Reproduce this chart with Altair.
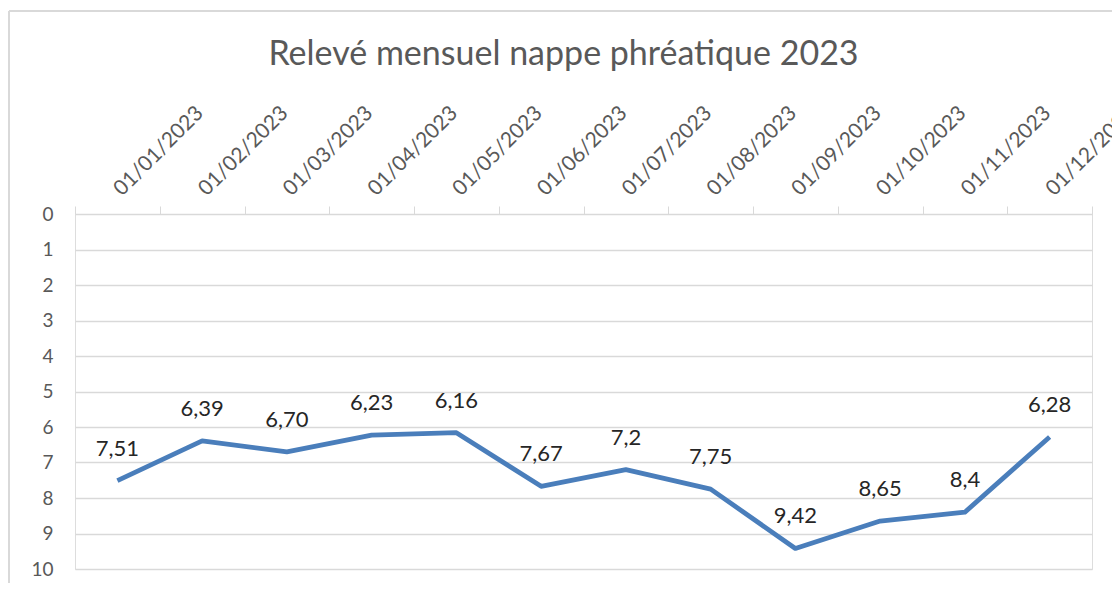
import altair as alt
import pandas as pd

dates = ["01/01/2023", "01/02/2023", "01/03/2023", "01/04/2023", "01/05/2023", "01/06/2023",
         "01/07/2023", "01/08/2023", "01/09/2023", "01/10/2023", "01/11/2023", "01/12/2023"]
levels = [7.51, 6.39, 6.70, 6.23, 6.16, 7.67, 7.2, 7.75, 9.42, 8.65, 8.4, 6.28]
labels = ["7,51", "6,39", "6,70", "6,23", "6,16", "7,67", "7,2", "7,75", "9,42", "8,65", "8,4", "6,28"]
y_ticks = [0, 1, 2, 3, 4, 5, 6, 7, 8, 9, 10]

df = pd.DataFrame({"date": dates, "level": levels, "label": labels})

FONT = "Lato"
GRID = "#D9D9D9"
AXIS_TXT = "#595959"

x_enc = alt.X(
    "date:N", sort=dates, bandPosition=0.5,
    scale=alt.Scale(type="band", paddingInner=0, paddingOuter=0),
    axis=alt.Axis(orient="top", title=None, labelAngle=-45, labelAlign="left",
                  labelBaseline="middle", labelFont=FONT, labelFontSize=21,
                  labelColor=AXIS_TXT, labelPadding=14, tickBand="extent",
                  tickSize=8, tickColor=GRID, domainColor=GRID, grid=False,
                  labelOverlap=False, labelBound=False),
)
y_enc = alt.Y(
    "level:Q",
    scale=alt.Scale(domain=[0, 10], reverse=True, nice=False, zero=False),
    axis=alt.Axis(values=y_ticks, title=None, domain=False, ticks=False,
                  gridColor=GRID, gridWidth=1.3, labelFont=FONT, labelFontSize=19,
                  labelColor=AXIS_TXT, labelPadding=22, format="d"),
)

base = alt.Chart(df)
line = base.mark_line(color="#4A7EBB", strokeWidth=4.8, strokeJoin="round").encode(x=x_enc, y=y_enc)
text = base.mark_text(dy=-25, baseline="alphabetic", align="center", font=FONT,
                      fontSize=22, color="#262626").encode(x=x_enc, y=y_enc, text="label:N")

frame_left = alt.Chart(df).mark_rule(color=GRID, strokeWidth=2).encode(
    x=alt.value(-66), y=alt.value(-203), y2=alt.value(400))
frame_top = alt.Chart(df).mark_rule(color=GRID, strokeWidth=2).encode(
    x=alt.value(-66), x2=alt.value(1100), y=alt.value(-203))

chart = alt.layer(frame_left, frame_top, line, text).properties(
    width=1017, height=355,
    title=alt.TitleParams("Relevé mensuel nappe phréatique 2023", font=FONT, fontSize=34,
                          fontWeight="normal", color=AXIS_TXT, anchor="middle",
                          baseline="alphabetic", dx=-20, offset=0, dy=89),
    padding={"left": 67, "top": 206, "right": 20, "bottom": 14},
    autosize=alt.AutoSizeParams(type="none"),
).configure_view(stroke=None).configure(background="white")

chart.save("out.html", embed_options={"renderer": "svg", "actions": False})
